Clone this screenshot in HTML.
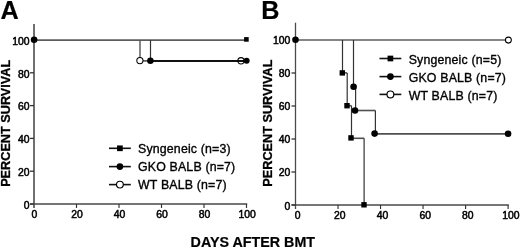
<!DOCTYPE html>
<html><head><meta charset="utf-8"><style>
html,body{margin:0;padding:0;background:#fff;width:520px;height:248px;overflow:hidden}
svg{display:block;will-change:transform}
text{font-family:"Liberation Sans",sans-serif;fill:#000}
line{fill:none}
.av{stroke:#404040;stroke-width:1.5}
.av2{stroke:#4a4a4a;stroke-width:1.3}
.ah{stroke:#484848;stroke-width:1.7}
.tkv{stroke:#333;stroke-width:1.15}
.tkh{stroke:#333;stroke-width:1.3}
.cv{stroke:#333;stroke-width:1.2}
.cvl{stroke:#555;stroke-width:1.4}
.ch{stroke:#505050;stroke-width:1.6}
.chg{stroke:#5c5c5c;stroke-width:1.7}
.chd{stroke:#111;stroke-width:2.0}
.lgl{stroke:#111;stroke-width:1.6}
.tk{font-size:10.4px;stroke:#000;stroke-width:0.5}
.tt{font-size:12.7px;font-weight:bold;stroke:#000;stroke-width:0.3}
.lg{font-size:12.35px;letter-spacing:0.17px;stroke:#000;stroke-width:0.35}
.lt{font-size:25.2px;font-weight:bold;stroke:#000;stroke-width:0.2}
.xt{font-size:14.3px;font-weight:bold;stroke:#000;stroke-width:0.2}
</style></head><body>
<svg width="520" height="248" viewBox="0 0 520 248">
<line x1="34" y1="24" x2="34" y2="208" class="av"/>
<line x1="30" y1="204" x2="247.2" y2="204" class="ah"/>
<line x1="30" y1="204" x2="34" y2="204" class="tkh"/>
<text x="29.5" y="208.65" class="tk" text-anchor="end">0</text>
<line x1="30" y1="171.2" x2="34" y2="171.2" class="tkh"/>
<line x1="76.5" y1="204" x2="76.5" y2="208" class="tkv"/>
<text x="29.5" y="175.85" class="tk" text-anchor="end">20</text>
<line x1="30" y1="138.4" x2="34" y2="138.4" class="tkh"/>
<line x1="119" y1="204" x2="119" y2="208" class="tkv"/>
<text x="29.5" y="143.05" class="tk" text-anchor="end">40</text>
<line x1="30" y1="105.6" x2="34" y2="105.6" class="tkh"/>
<line x1="161.5" y1="204" x2="161.5" y2="208" class="tkv"/>
<text x="29.5" y="110.25" class="tk" text-anchor="end">60</text>
<line x1="30" y1="72.8" x2="34" y2="72.8" class="tkh"/>
<line x1="204" y1="204" x2="204" y2="208" class="tkv"/>
<text x="29.5" y="78.05" class="tk" text-anchor="end">80</text>
<line x1="246.5" y1="204" x2="246.5" y2="208" class="tkv"/>
<text x="29.5" y="44.65" class="tk" text-anchor="end">100</text>
<text x="34.5" y="218.2" class="tk" text-anchor="middle">0</text>
<text x="77.1" y="218.2" class="tk" text-anchor="middle">20</text>
<text x="119.5" y="218.2" class="tk" text-anchor="middle">40</text>
<text x="162.1" y="218.2" class="tk" text-anchor="middle">60</text>
<text x="204.6" y="218.2" class="tk" text-anchor="middle">80</text>
<text x="247.1" y="218.2" class="tk" text-anchor="middle">100</text>
<text transform="translate(10.1,123.3) rotate(-90)" class="tt" text-anchor="middle">PERCENT SURVIVAL</text>
<text x="0.6" y="18.6" class="lt">A</text>
<line x1="34" y1="40.1" x2="246" y2="40.1" class="chg"/>
<line x1="140" y1="40.1" x2="140" y2="60.9" class="cvl"/>
<line x1="150.5" y1="40.1" x2="150.5" y2="60.9" class="cv"/>
<line x1="140" y1="60.9" x2="150.5" y2="60.9" class="ch"/>
<circle cx="139.9" cy="60.6" r="3.1" fill="#fff" stroke="#000" stroke-width="1.05"/>
<line x1="150.5" y1="61" x2="246.5" y2="61" class="chd"/>
<circle cx="241" cy="60.8" r="3.15" fill="none" stroke="#000" stroke-width="1.05"/>
<circle cx="150.4" cy="60.7" r="3.25" fill="#000"/>
<circle cx="246.6" cy="60.8" r="3.05" fill="#000"/>
<rect x="244.1" y="37.1" width="4.6" height="4.6" fill="#000"/>
<circle cx="34.1" cy="39.7" r="3.3" fill="#000"/>
<line x1="109" y1="148.3" x2="130.8" y2="148.3" class="lgl"/>
<rect x="117.05" y="145.45" width="5.7" height="5.7" fill="#000"/>
<text x="138" y="153.1" class="lg">Syngeneic (n=3)</text>
<line x1="109" y1="166.6" x2="130.8" y2="166.6" class="lgl"/>
<circle cx="119.9" cy="166.6" r="3.35" fill="#000"/>
<text x="138" y="171.4" class="lg">GKO BALB (n=7)</text>
<line x1="109" y1="184.6" x2="130.8" y2="184.6" class="lgl"/>
<circle cx="119.9" cy="184.6" r="3.4" fill="#fff" stroke="#000" stroke-width="1.15"/>
<text x="138" y="189.4" class="lg">WT BALB (n=7)</text>
<line x1="295.5" y1="22.7" x2="295.5" y2="209" class="av2"/>
<line x1="291.5" y1="205" x2="508.8" y2="205" class="ah"/>
<line x1="291.5" y1="205" x2="295.5" y2="205" class="tkh"/>
<text x="290.4" y="209.75" class="tk" text-anchor="end">0</text>
<line x1="291.5" y1="172" x2="295.5" y2="172" class="tkh"/>
<line x1="338.02" y1="205" x2="338.02" y2="209" class="tkv"/>
<text x="290.4" y="176.45" class="tk" text-anchor="end">20</text>
<line x1="291.5" y1="139" x2="295.5" y2="139" class="tkh"/>
<line x1="380.54" y1="205" x2="380.54" y2="209" class="tkv"/>
<text x="290.4" y="143.15" class="tk" text-anchor="end">40</text>
<line x1="291.5" y1="106" x2="295.5" y2="106" class="tkh"/>
<line x1="423.06" y1="205" x2="423.06" y2="209" class="tkv"/>
<text x="290.4" y="110.15" class="tk" text-anchor="end">60</text>
<line x1="291.5" y1="73" x2="295.5" y2="73" class="tkh"/>
<line x1="465.58" y1="205" x2="465.58" y2="209" class="tkv"/>
<text x="290.4" y="77.15" class="tk" text-anchor="end">80</text>
<line x1="508.1" y1="205" x2="508.1" y2="209" class="tkv"/>
<text x="290.4" y="44.15" class="tk" text-anchor="end">100</text>
<text x="297.6" y="219.1" class="tk" text-anchor="middle">0</text>
<text x="339.8" y="219.1" class="tk" text-anchor="middle">20</text>
<text x="382.6" y="219.1" class="tk" text-anchor="middle">40</text>
<text x="425.3" y="219.1" class="tk" text-anchor="middle">60</text>
<text x="467.7" y="219.1" class="tk" text-anchor="middle">80</text>
<text x="510.8" y="219.1" class="tk" text-anchor="middle">100</text>
<text transform="translate(272.4,123.1) rotate(-90)" class="tt" text-anchor="middle">PERCENT SURVIVAL</text>
<text x="261.2" y="18.7" class="lt">B</text>
<line x1="295.5" y1="40" x2="508" y2="40" class="chg"/>
<line x1="342.5" y1="40" x2="342.5" y2="72.9" class="cv"/>
<line x1="342.5" y1="72.9" x2="347.2" y2="72.9" class="ch"/>
<line x1="347.2" y1="72.9" x2="347.2" y2="105.7" class="cv"/>
<line x1="347.2" y1="105.7" x2="351.5" y2="105.7" class="ch"/>
<line x1="351.5" y1="105.7" x2="351.5" y2="138.3" class="cv"/>
<line x1="351.5" y1="138.3" x2="364.1" y2="138.3" class="ch"/>
<line x1="364.1" y1="138.3" x2="364.1" y2="205" class="cv"/>
<line x1="353.5" y1="40" x2="353.5" y2="86.8" class="cv"/>
<line x1="353.5" y1="86.8" x2="355.6" y2="86.8" class="ch"/>
<line x1="355.6" y1="86.8" x2="355.6" y2="110.5" class="cv"/>
<line x1="355.6" y1="110.5" x2="375.4" y2="110.5" class="ch"/>
<line x1="375.4" y1="110.5" x2="375.4" y2="133.9" class="cv"/>
<line x1="375.4" y1="133.9" x2="508" y2="133.9" class="ch"/>
<rect x="339.6" y="70.2" width="5.4" height="5.4" fill="#000"/>
<rect x="344.3" y="103" width="5.4" height="5.4" fill="#000"/>
<rect x="348.3" y="135.2" width="5.4" height="5.4" fill="#000"/>
<rect x="361.3" y="202.1" width="5.4" height="5.4" fill="#000"/>
<circle cx="353.6" cy="86.8" r="3.3" fill="#000"/>
<circle cx="355" cy="110.5" r="3.3" fill="#000"/>
<circle cx="374.6" cy="133.6" r="3.3" fill="#000"/>
<circle cx="508.1" cy="133.7" r="3.3" fill="#000"/>
<circle cx="508.4" cy="40.1" r="3" fill="#fff" stroke="#000" stroke-width="1.05"/>
<circle cx="295.5" cy="39.8" r="3.3" fill="#000"/>
<line x1="379.5" y1="58.5" x2="401.3" y2="58.5" class="lgl"/>
<rect x="387.55" y="55.65" width="5.7" height="5.7" fill="#000"/>
<text x="408.7" y="63.9" class="lg">Syngeneic (n=5)</text>
<line x1="379.5" y1="76.6" x2="401.3" y2="76.6" class="lgl"/>
<circle cx="390.4" cy="76.6" r="3.35" fill="#000"/>
<text x="408.7" y="82" class="lg">GKO BALB (n=7)</text>
<line x1="379.5" y1="94.4" x2="401.3" y2="94.4" class="lgl"/>
<circle cx="390.4" cy="94.4" r="3.4" fill="#fff" stroke="#000" stroke-width="1.15"/>
<text x="408.7" y="99.8" class="lg">WT BALB (n=7)</text>
<text x="190.6" y="246.7" class="xt">DAYS AFTER BMT</text>
</svg>
</body></html>
